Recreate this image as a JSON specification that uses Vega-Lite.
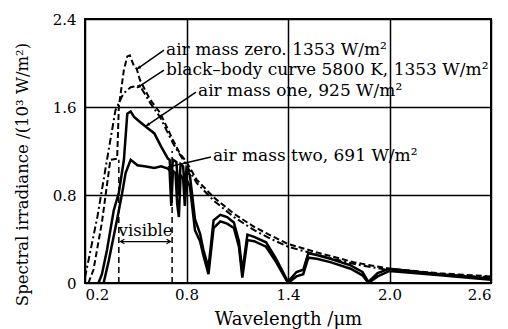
{
  "$schema": "https://vega.github.io/schema/vega-lite/v6.json",
  "width": 406,
  "height": 264,
  "autosize": {"type": "none"},
  "padding": {"left": 85, "top": 19, "right": 17, "bottom": 46},
  "background": "white",
  "config": {
    "view": {"stroke": "black", "strokeWidth": 2},
    "font": "DejaVu Serif",
    "axis": {
      "labelFont": "DejaVu Serif",
      "titleFont": "DejaVu Serif",
      "labelFontSize": 15,
      "titleFontSize": 17,
      "titleFontWeight": "normal",
      "labelColor": "black",
      "titleColor": "black",
      "gridColor": "black",
      "gridOpacity": 1,
      "gridWidth": 1.5,
      "ticks": false,
      "domain": false
    }
  },
  "datasets": {
    "curves": [
      {"series": "am0", "wl": 0.22, "irr": 0.0},
      {"series": "am0", "wl": 0.25, "irr": 0.12},
      {"series": "am0", "wl": 0.30, "irr": 0.55},
      {"series": "am0", "wl": 0.35, "irr": 1.12},
      {"series": "am0", "wl": 0.39, "irr": 1.13},
      {"series": "am0", "wl": 0.40, "irr": 1.6},
      {"series": "am0", "wl": 0.43, "irr": 1.94},
      {"series": "am0", "wl": 0.45, "irr": 2.06},
      {"series": "am0", "wl": 0.465, "irr": 2.07},
      {"series": "am0", "wl": 0.49, "irr": 1.97},
      {"series": "am0", "wl": 0.505, "irr": 1.95},
      {"series": "am0", "wl": 0.525, "irr": 1.845},
      {"series": "am0", "wl": 0.584, "irr": 1.67},
      {"series": "am0", "wl": 0.643, "irr": 1.55},
      {"series": "am0", "wl": 0.72, "irr": 1.30},
      {"series": "am0", "wl": 0.76, "irr": 1.18},
      {"series": "am0", "wl": 0.80, "irr": 1.10},
      {"series": "am0", "wl": 0.86, "irr": 0.94},
      {"series": "am0", "wl": 0.96, "irr": 0.78},
      {"series": "am0", "wl": 1.08, "irr": 0.63},
      {"series": "am0", "wl": 1.2, "irr": 0.51},
      {"series": "am0", "wl": 1.3, "irr": 0.43},
      {"series": "am0", "wl": 1.4, "irr": 0.355},
      {"series": "am0", "wl": 1.6, "irr": 0.265},
      {"series": "am0", "wl": 1.8, "irr": 0.185},
      {"series": "am0", "wl": 2.0, "irr": 0.13},
      {"series": "am0", "wl": 2.3, "irr": 0.088},
      {"series": "am0", "wl": 2.6, "irr": 0.06},
      {"series": "bb", "wl": 0.2, "irr": 0.05},
      {"series": "bb", "wl": 0.273, "irr": 0.60},
      {"series": "bb", "wl": 0.33, "irr": 1.12},
      {"series": "bb", "wl": 0.38, "irr": 1.57},
      {"series": "bb", "wl": 0.426, "irr": 1.72},
      {"series": "bb", "wl": 0.47, "irr": 1.78},
      {"series": "bb", "wl": 0.51, "irr": 1.79},
      {"series": "bb", "wl": 0.53, "irr": 1.78},
      {"series": "bb", "wl": 0.584, "irr": 1.64},
      {"series": "bb", "wl": 0.643, "irr": 1.51},
      {"series": "bb", "wl": 0.72, "irr": 1.27},
      {"series": "bb", "wl": 0.80, "irr": 1.07},
      {"series": "bb", "wl": 0.86, "irr": 0.91},
      {"series": "bb", "wl": 0.96, "irr": 0.75},
      {"series": "bb", "wl": 1.08, "irr": 0.60},
      {"series": "bb", "wl": 1.2, "irr": 0.48},
      {"series": "bb", "wl": 1.3, "irr": 0.40},
      {"series": "bb", "wl": 1.4, "irr": 0.33},
      {"series": "bb", "wl": 1.6, "irr": 0.245},
      {"series": "bb", "wl": 1.8, "irr": 0.17},
      {"series": "bb", "wl": 2.0, "irr": 0.115},
      {"series": "bb", "wl": 2.3, "irr": 0.078},
      {"series": "bb", "wl": 2.6, "irr": 0.052},
      {"series": "am1", "wl": 0.28, "irr": 0.0},
      {"series": "am1", "wl": 0.30, "irr": 0.08},
      {"series": "am1", "wl": 0.33, "irr": 0.30},
      {"series": "am1", "wl": 0.37, "irr": 0.66},
      {"series": "am1", "wl": 0.40, "irr": 0.82},
      {"series": "am1", "wl": 0.43, "irr": 1.12},
      {"series": "am1", "wl": 0.45, "irr": 1.54},
      {"series": "am1", "wl": 0.47, "irr": 1.56},
      {"series": "am1", "wl": 0.49, "irr": 1.51},
      {"series": "am1", "wl": 0.52, "irr": 1.47},
      {"series": "am1", "wl": 0.56, "irr": 1.42},
      {"series": "am1", "wl": 0.61, "irr": 1.36},
      {"series": "am1", "wl": 0.65, "irr": 1.24},
      {"series": "am1", "wl": 0.69, "irr": 1.13},
      {"series": "am1", "wl": 0.70, "irr": 1.12},
      {"series": "am1", "wl": 0.71, "irr": 0.95},
      {"series": "am1", "wl": 0.72, "irr": 1.12},
      {"series": "am1", "wl": 0.74, "irr": 1.10},
      {"series": "am1", "wl": 0.755, "irr": 0.80},
      {"series": "am1", "wl": 0.765, "irr": 1.08},
      {"series": "am1", "wl": 0.78, "irr": 1.06},
      {"series": "am1", "wl": 0.79, "irr": 0.85},
      {"series": "am1", "wl": 0.80, "irr": 1.04},
      {"series": "am1", "wl": 0.82, "irr": 0.98},
      {"series": "am1", "wl": 0.85, "irr": 0.58},
      {"series": "am1", "wl": 0.88, "irr": 0.45},
      {"series": "am1", "wl": 0.90, "irr": 0.30},
      {"series": "am1", "wl": 0.93, "irr": 0.14},
      {"series": "am1", "wl": 0.96, "irr": 0.57},
      {"series": "am1", "wl": 1.0, "irr": 0.62},
      {"series": "am1", "wl": 1.04, "irr": 0.60},
      {"series": "am1", "wl": 1.08, "irr": 0.55},
      {"series": "am1", "wl": 1.11, "irr": 0.38},
      {"series": "am1", "wl": 1.13, "irr": 0.10},
      {"series": "am1", "wl": 1.16, "irr": 0.44},
      {"series": "am1", "wl": 1.2, "irr": 0.42},
      {"series": "am1", "wl": 1.27, "irr": 0.37},
      {"series": "am1", "wl": 1.33, "irr": 0.22},
      {"series": "am1", "wl": 1.40, "irr": 0.01},
      {"series": "am1", "wl": 1.45, "irr": 0.10},
      {"series": "am1", "wl": 1.49, "irr": 0.12},
      {"series": "am1", "wl": 1.52, "irr": 0.27},
      {"series": "am1", "wl": 1.57, "irr": 0.255},
      {"series": "am1", "wl": 1.65, "irr": 0.22},
      {"series": "am1", "wl": 1.77, "irr": 0.16},
      {"series": "am1", "wl": 1.84, "irr": 0.10},
      {"series": "am1", "wl": 1.875, "irr": 0.01},
      {"series": "am1", "wl": 1.93, "irr": 0.09},
      {"series": "am1", "wl": 2.0, "irr": 0.13},
      {"series": "am1", "wl": 2.3, "irr": 0.08},
      {"series": "am1", "wl": 2.6, "irr": 0.04},
      {"series": "am2", "wl": 0.31, "irr": 0.0},
      {"series": "am2", "wl": 0.34, "irr": 0.20},
      {"series": "am2", "wl": 0.39, "irr": 0.58},
      {"series": "am2", "wl": 0.42, "irr": 0.82},
      {"series": "am2", "wl": 0.44, "irr": 1.0},
      {"series": "am2", "wl": 0.47, "irr": 1.12},
      {"series": "am2", "wl": 0.51, "irr": 1.07},
      {"series": "am2", "wl": 0.56, "irr": 1.06},
      {"series": "am2", "wl": 0.61, "irr": 1.045},
      {"series": "am2", "wl": 0.65, "irr": 1.06},
      {"series": "am2", "wl": 0.69, "irr": 1.04},
      {"series": "am2", "wl": 0.70, "irr": 1.02},
      {"series": "am2", "wl": 0.71, "irr": 0.70},
      {"series": "am2", "wl": 0.72, "irr": 1.02},
      {"series": "am2", "wl": 0.735, "irr": 1.0},
      {"series": "am2", "wl": 0.745, "irr": 0.72},
      {"series": "am2", "wl": 0.755, "irr": 0.60},
      {"series": "am2", "wl": 0.765, "irr": 0.98},
      {"series": "am2", "wl": 0.78, "irr": 0.95},
      {"series": "am2", "wl": 0.79, "irr": 0.70},
      {"series": "am2", "wl": 0.80, "irr": 0.94},
      {"series": "am2", "wl": 0.82, "irr": 0.88},
      {"series": "am2", "wl": 0.85, "irr": 0.48},
      {"series": "am2", "wl": 0.88, "irr": 0.38},
      {"series": "am2", "wl": 0.90, "irr": 0.25},
      {"series": "am2", "wl": 0.93, "irr": 0.08},
      {"series": "am2", "wl": 0.96, "irr": 0.50},
      {"series": "am2", "wl": 1.0, "irr": 0.56},
      {"series": "am2", "wl": 1.04, "irr": 0.54},
      {"series": "am2", "wl": 1.08, "irr": 0.50},
      {"series": "am2", "wl": 1.11, "irr": 0.33},
      {"series": "am2", "wl": 1.13, "irr": 0.05},
      {"series": "am2", "wl": 1.16, "irr": 0.39},
      {"series": "am2", "wl": 1.2, "irr": 0.38},
      {"series": "am2", "wl": 1.27, "irr": 0.33},
      {"series": "am2", "wl": 1.33, "irr": 0.19},
      {"series": "am2", "wl": 1.40, "irr": 0.0},
      {"series": "am2", "wl": 1.45, "irr": 0.06},
      {"series": "am2", "wl": 1.49, "irr": 0.08},
      {"series": "am2", "wl": 1.52, "irr": 0.23},
      {"series": "am2", "wl": 1.57, "irr": 0.22},
      {"series": "am2", "wl": 1.65, "irr": 0.19},
      {"series": "am2", "wl": 1.77, "irr": 0.13},
      {"series": "am2", "wl": 1.84, "irr": 0.07},
      {"series": "am2", "wl": 1.875, "irr": 0.0},
      {"series": "am2", "wl": 1.93, "irr": 0.06},
      {"series": "am2", "wl": 2.0, "irr": 0.11},
      {"series": "am2", "wl": 2.3, "irr": 0.07},
      {"series": "am2", "wl": 2.6, "irr": 0.03}
    ],
    "labels": [
      {"label": "air mass zero. 1353 W/m²", "wl": 0.679, "irr": 2.118},
      {"label": "black–body curve 5800 K, 1353 W/m²", "wl": 0.679, "irr": 1.936},
      {"label": "air mass one, 925 W/m²", "wl": 0.868, "irr": 1.741},
      {"label": "air mass two, 691 W/m²", "wl": 0.956, "irr": 1.155}
    ],
    "leaders": [
      {"wl": 0.667, "irr": 2.118, "wl2": 0.507, "irr2": 1.945, "steep": true},
      {"wl": 0.667, "irr": 1.936, "wl2": 0.507, "irr2": 1.773, "steep": true},
      {"wl": 0.856, "irr": 1.736, "wl2": 0.56, "irr2": 1.427, "steep": true},
      {"wl": 0.945, "irr": 1.145, "wl2": 0.69, "irr2": 1.055, "steep": false}
    ],
    "visible": [
      {"wl": 0.40, "irr": 0, "irr2": 1.12},
      {"wl": 0.715, "irr": 0, "irr2": 1.2}
    ]
  },
  "layer": [
    {
      "data": {"name": "curves"},
      "transform": [{"filter": "datum.series === 'bb'"}],
      "mark": {"type": "line", "color": "black", "strokeWidth": 2, "strokeDash": [7, 3, 2, 3], "clip": true},
      "encoding": {
        "x": {"field": "wl", "type": "quantitative", "scale": {"domain": [0.2, 2.6], "nice": false, "zero": false},
              "axis": {"values": [0.2, 0.8, 1.4, 2.0, 2.6], "format": ".1f", "title": "Wavelength /μm", "labelPadding": 4, "titlePadding": 8, "titleFontSize": 18}},
        "y": {"field": "irr", "type": "quantitative", "scale": {"domain": [0, 2.4], "nice": false},
              "axis": {"values": [0, 0.8, 1.6, 2.4], "labelExpr": "datum.value === 0 ? '0' : format(datum.value, '.1f')", "title": "Spectral irradiance /(10³ W/m²)", "labelPadding": 9, "titleFontSize": 16.5, "titleX": -63, "titleY": 155, "titleAngle": -90, "titleAlign": "center", "titleBaseline": "middle"}}
      }
    },
    {
      "data": {"name": "curves"},
      "transform": [{"filter": "datum.series === 'am0'"}],
      "mark": {"type": "line", "color": "black", "strokeWidth": 2, "strokeDash": [6, 3], "clip": true},
      "encoding": {"x": {"field": "wl", "type": "quantitative"}, "y": {"field": "irr", "type": "quantitative"}}
    },
    {
      "data": {"name": "curves"},
      "transform": [{"filter": "datum.series === 'am1' || datum.series === 'am2'"}],
      "mark": {"type": "line", "color": "black", "strokeWidth": 2.5, "clip": true},
      "encoding": {"x": {"field": "wl", "type": "quantitative"}, "y": {"field": "irr", "type": "quantitative"}, "detail": {"field": "series"}}
    },
    {
      "data": {"name": "visible"},
      "mark": {"type": "rule", "color": "black", "strokeWidth": 1.5, "strokeDash": [6, 4]},
      "encoding": {"x": {"field": "wl", "type": "quantitative"}, "y": {"field": "irr", "type": "quantitative"}, "y2": {"field": "irr2"}}
    },
    {
      "data": {"values": [{"wl": 0.41, "wl2": 0.705, "irr": 0.377}]},
      "mark": {"type": "rule", "color": "black", "strokeWidth": 1.2},
      "encoding": {"x": {"field": "wl", "type": "quantitative"}, "x2": {"field": "wl2"}, "y": {"field": "irr", "type": "quantitative"}}
    },
    {
      "data": {"values": [{"wl": 0.41, "irr": 0.377}]},
      "mark": {"type": "point", "shape": "M 1 -0.6 L 0 0 L 1 0.6", "size": 60, "stroke": "black", "strokeWidth": 1.2, "filled": false, "opacity": 1},
      "encoding": {"x": {"field": "wl", "type": "quantitative"}, "y": {"field": "irr", "type": "quantitative"}}
    },
    {
      "data": {"values": [{"wl": 0.705, "irr": 0.377}]},
      "mark": {"type": "point", "shape": "M -1 -0.6 L 0 0 L -1 0.6", "size": 60, "stroke": "black", "strokeWidth": 1.2, "filled": false, "opacity": 1},
      "encoding": {"x": {"field": "wl", "type": "quantitative"}, "y": {"field": "irr", "type": "quantitative"}}
    },
    {
      "data": {"values": [{"label": "visible", "wl": 0.558, "irr": 0.473}]},
      "mark": {"type": "text", "font": "DejaVu Serif", "fontSize": 16.5, "color": "black", "align": "center", "baseline": "middle"},
      "encoding": {"x": {"field": "wl", "type": "quantitative"}, "y": {"field": "irr", "type": "quantitative"}, "text": {"field": "label"}}
    },
    {
      "data": {"name": "leaders"},
      "mark": {"type": "rule", "color": "black", "strokeWidth": 1.5},
      "encoding": {"x": {"field": "wl", "type": "quantitative"}, "y": {"field": "irr", "type": "quantitative"}, "x2": {"field": "wl2"}, "y2": {"field": "irr2"}}
    },
    {
      "data": {"name": "leaders"},
      "transform": [{"filter": "datum.steep"}],
      "mark": {"type": "point", "shape": "M 0 0 L -1 -0.45 L -1 0.45 Z", "size": 70, "angle": 146, "fill": "black", "filled": true, "strokeWidth": 0, "opacity": 1},
      "encoding": {"x": {"field": "wl2", "type": "quantitative"}, "y": {"field": "irr2", "type": "quantitative"}}
    },
    {
      "data": {"name": "leaders"},
      "transform": [{"filter": "!datum.steep"}],
      "mark": {"type": "point", "shape": "M 0 0 L -1 -0.45 L -1 0.45 Z", "size": 70, "angle": 167, "fill": "black", "filled": true, "strokeWidth": 0, "opacity": 1},
      "encoding": {"x": {"field": "wl2", "type": "quantitative"}, "y": {"field": "irr2", "type": "quantitative"}}
    },
    {
      "data": {"name": "labels"},
      "mark": {"type": "text", "font": "DejaVu Serif", "fontSize": 17, "color": "black", "align": "left", "baseline": "middle"},
      "encoding": {"x": {"field": "wl", "type": "quantitative"}, "y": {"field": "irr", "type": "quantitative"}, "text": {"field": "label"}}
    }
  ]
}
